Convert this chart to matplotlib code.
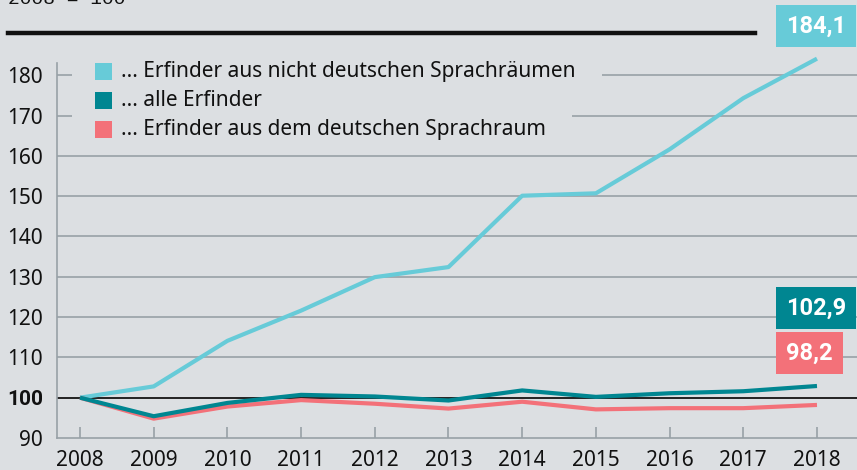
import matplotlib
matplotlib.use("Agg")
import matplotlib.pyplot as plt
import numpy as np
from matplotlib.patches import Rectangle

# Index 2008 = 100
years = [2008, 2009, 2010, 2011, 2012, 2013, 2014, 2015, 2016, 2017, 2018]
nicht_deutsch = [100, 102.8, 114.1, 121.6, 129.9, 132.4, 150.1, 150.7, 161.6, 174.3, 184.1]
alle = [100, 95.4, 98.7, 100.7, 100.3, 99.3, 101.8, 100.2, 101.1, 101.6, 102.9]
deutsch = [100, 94.8, 97.8, 99.4, 98.5, 97.3, 99.0, 97.1, 97.4, 97.4, 98.2]

labels = ["... Erfinder aus nicht deutschen Sprachräumen",
          "... alle Erfinder",
          "... Erfinder aus dem deutschen Sprachraum"]
end_labels = ["184,1", "102,9", "98,2"]
yticks = [90, 100, 110, 120, 130, 140, 150, 160, 170, 180]

bg = "#dcdfe2"
c_light = "#67cbd8"
c_teal = "#008691"
c_pink = "#f37179"
grid_c = "#98a1a7"
bold_fam = ['Roboto', 'DejaVu Sans']

plt.rcParams['font.family'] = ['Noto Sans', 'DejaVu Sans']

fig = plt.figure(figsize=(8.57, 4.70), dpi=100, facecolor=bg)
ax = fig.add_axes([57/857, 1-438/470, 800/857, (438-51)/470])
ax.set_facecolor(bg)
ax.set_xlim(2007.688, 2018.543)
ax.set_ylim(90, 186)

for v in yticks[2:]:
    ax.axhline(v, color=grid_c, lw=1.2, zorder=1)
ax.axhline(100, color="#222222", lw=1.4, zorder=2)

ax.plot(years, nicht_deutsch, color=c_light, lw=3, zorder=4, solid_capstyle='butt')
ax.plot(years, deutsch, color=c_pink, lw=3, zorder=5, solid_capstyle='butt')
ax.plot(years, alle, color=c_teal, lw=3, zorder=6, solid_capstyle='butt')

for s in ['top', 'right']:
    ax.spines[s].set_visible(False)
ax.spines['left'].set_bounds(90, 183)
for s in ['left', 'bottom']:
    ax.spines[s].set_color(grid_c)
    ax.spines[s].set_linewidth(1.2)

ax.set_xticks(years)
ax.set_xticklabels([str(y) for y in years])
ax.tick_params(axis='x', direction='in', length=8, width=1.2, color=grid_c,
               labelsize=15, pad=9, labelcolor="#111111")
ax.set_yticks(yticks)
ax.set_yticklabels([str(v) for v in yticks])
ax.tick_params(axis='y', length=0, labelsize=15, pad=10, labelcolor="#111111")
for t in ax.get_yticklabels():
    if t.get_text() == "100":
        t.set_fontweight('bold')
        t.set_family(bold_fam)

# legend entries, each with a background patch that hides the grid
leg_y = [0.946, 0.871, 0.796]
leg_c = [c_light, c_teal, c_pink]
texts = []
for lab, yy, cc in zip(labels, leg_y, leg_c):
    ax.add_patch(Rectangle((0.0475, yy - 0.022), 17/800, 17/387, transform=ax.transAxes,
                           facecolor=cc, edgecolor='none', zorder=9))
    t = ax.text(0.08, yy, lab, transform=ax.transAxes, fontsize=15, va='center',
                ha='left', color="#111111", zorder=9)
    texts.append(t)

fig.canvas.draw()
r = fig.canvas.get_renderer()
inv = ax.transAxes.inverted()
for t in texts:
    bb = t.get_window_extent(r)
    x0, y0 = inv.transform((72 * 1.0, bb.y0 - 4))
    x1, y1 = inv.transform((bb.x1 + 26, bb.y1 + 4))
    ax.add_patch(Rectangle((x0, y0), x1 - x0, y1 - y0, transform=ax.transAxes,
                           facecolor=bg, edgecolor='none', zorder=3))

# title remnant and black rule at top
fig.text(8/857, 1 - 4/470, "2008 = 100", fontsize=14, family='Liberation Mono',
         va='baseline', ha='left', color="#111111")
fig.add_artist(plt.Line2D([8/857, 755/857], [1 - 33/470, 1 - 33/470],
                          color="#111111", lw=3.2, transform=fig.transFigure))

# end value labels
box_y = [26, 308, 353]
box_c = [c_light, c_teal, c_pink]
for lab, by, bc in zip(end_labels, box_y, box_c):
    fig.text(786/857, 1 - by/470, lab, fontsize=17, fontweight='bold', color='white',
             family=bold_fam, va='center', ha='left',
             bbox=dict(boxstyle='square,pad=0.42', facecolor=bc, edgecolor='none'))

fig.savefig("out.png", dpi=100, facecolor=bg)
